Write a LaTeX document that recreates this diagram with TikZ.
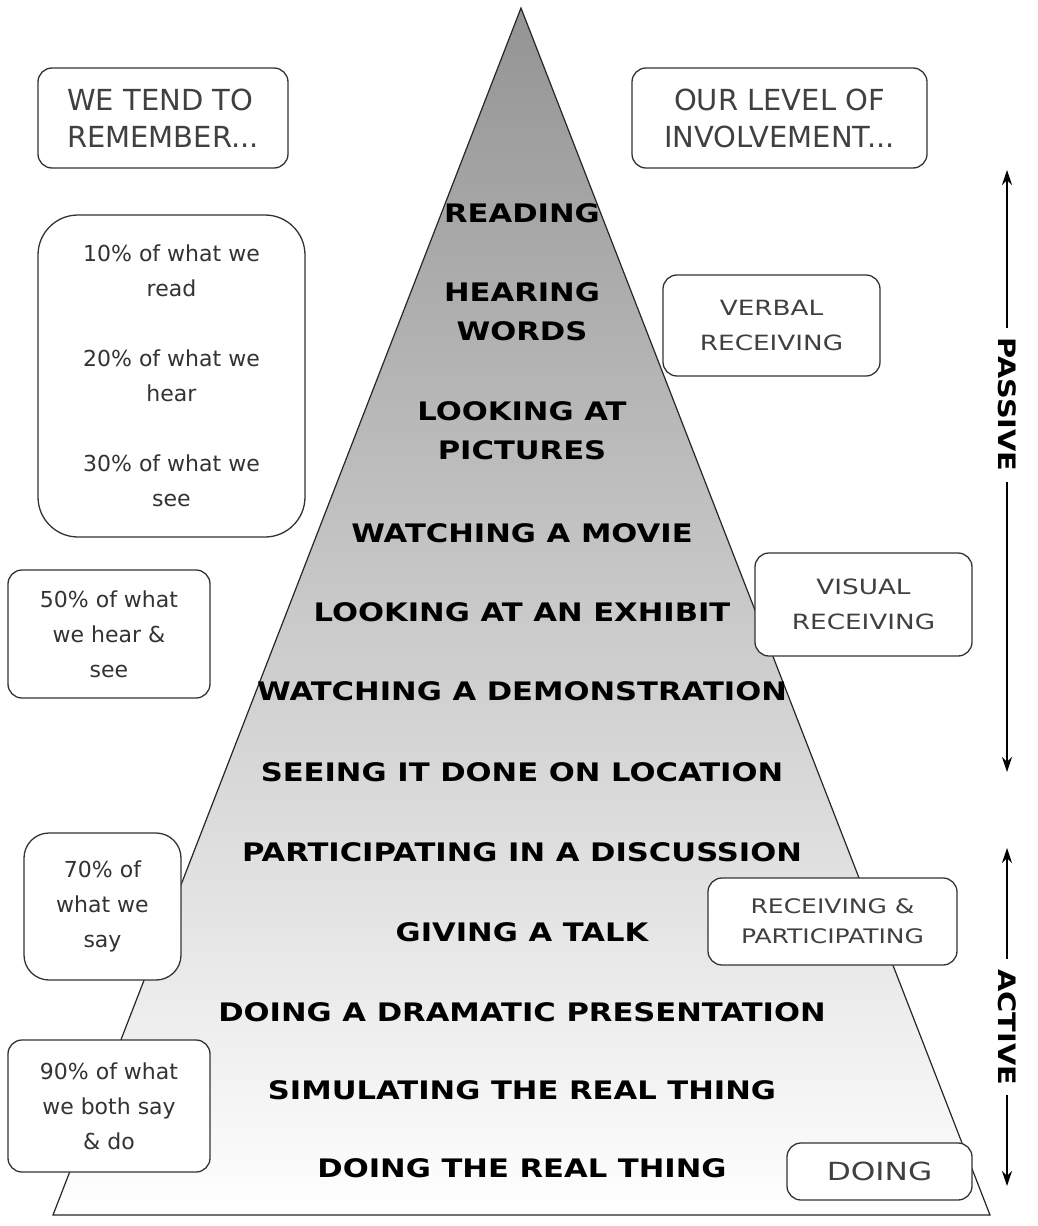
\documentclass[tikz,border=0pt]{standalone}
\usepackage{fontspec}
\setmainfont{DejaVu Sans}
\newfontfamily\conefont[FakeStretch=1.2]{DejaVu Sans}
\newfontfamily\tagfont[FakeStretch=1.25]{DejaVu Sans}
\usetikzlibrary{arrows.meta}

\tikzset{
  level/.style={font=\conefont\bfseries\fontsize{25.5}{39}\selectfont, align=center, inner sep=0pt},
  box/.style={draw=black!80, line width=1.3pt, fill=white, rounded corners=14pt, inner sep=0pt, align=center},
  head/.style={box, text=black!75, font=\fontsize{29}{37}\selectfont},
  share/.style={box, text=black!80, font=\fontsize{22}{35}\selectfont},
  kind/.style={box, text=black!75, font=\tagfont\fontsize{21}{35}\selectfont},
  side/.style={line width=1.4pt, {Stealth[length=15pt,width=10pt]}-{Stealth[length=15pt,width=10pt]}},
  sidetext/.style={font=\conefont\bfseries\fontsize{24}{24}\selectfont, rotate=-90, fill=white, inner sep=10pt},
}

\begin{document}
\begin{tikzpicture}[x=1pt,y=-1pt]
	\useasboundingbox (0,0) rectangle (1037,1226);
	\coordinate (apex) at (521,8);
	\coordinate (bl) at (53,1215);
	\coordinate (br) at (990,1215);
	\shade[top color=black!42, bottom color=white] (apex) -- (bl) -- (br) -- cycle;
	\draw[line width=1.2pt, black!85] (apex) -- (bl) -- (br) -- cycle;

	\foreach \y/\txt [count=\i] in {213/READING, 312/{HEARING\\WORDS}, 431/{LOOKING AT\\PICTURES},
		533/WATCHING A MOVIE, 612/LOOKING AT AN EXHIBIT, 691/WATCHING A DEMONSTRATION,
		772/SEEING IT DONE ON LOCATION, 852/PARTICIPATING IN A DISCUSSION, 932/GIVING A TALK,
		1012/DOING A DRAMATIC PRESENTATION, 1090/SIMULATING THE REAL THING, 1168/DOING THE REAL THING}
		\node[level] (lv\i) at (522,\y) {\txt};

	\node[head, align=left, minimum width=250, minimum height=100] (remember) at (163,118) {WE TEND TO\\REMEMBER...};
	\node[head, minimum width=295, minimum height=100] (involve) at (779.5,118) {OUR LEVEL OF\\INVOLVEMENT...};

	\node[share, rounded corners=40pt, minimum width=267, minimum height=322] (percent) at (171.5,376)
		{10\% of what we\\read\\[35pt]20\% of what we\\hear\\[35pt]30\% of what we\\see};
	\node[share, minimum width=202, minimum height=128] (fifty) at (109,634) {50\% of what\\we hear \&\\see};
	\node[share, rounded corners=25pt, minimum width=157, minimum height=147] (seventy) at (102.5,906.5) {70\% of\\what we\\say};
	\node[share, minimum width=202, minimum height=132] (ninety) at (109,1106) {90\% of what\\we both say\\\& do};

	\node[kind, minimum width=217, minimum height=101] (verbal) at (771.5,325.5) {VERBAL\\RECEIVING};
	\node[kind, minimum width=217, minimum height=103] (visual) at (863.5,604.5) {VISUAL\\RECEIVING};
	\node[kind, font=\tagfont\fontsize{20}{30}\selectfont, minimum width=249, minimum height=87] (partic) at (832.5,921.5) {RECEIVING \&\\PARTICIPATING};
	\node[kind, font=\tagfont\fontsize{25}{30}\selectfont, minimum width=185, minimum height=57] (doing) at (879.5,1171.5) {DOING};

	\coordinate (passtop) at (1007,170);
	\coordinate (passbot) at (1007,772);
	\coordinate (acttop) at (1007,848);
	\coordinate (actbot) at (1007,1186);
	\draw[side] (passtop) -- node[sidetext, pos=0.39] (passive) {PASSIVE} (passbot);
	\draw[side] (acttop) -- node[sidetext, pos=0.53] (active) {ACTIVE} (actbot);
\end{tikzpicture}
\end{document}
